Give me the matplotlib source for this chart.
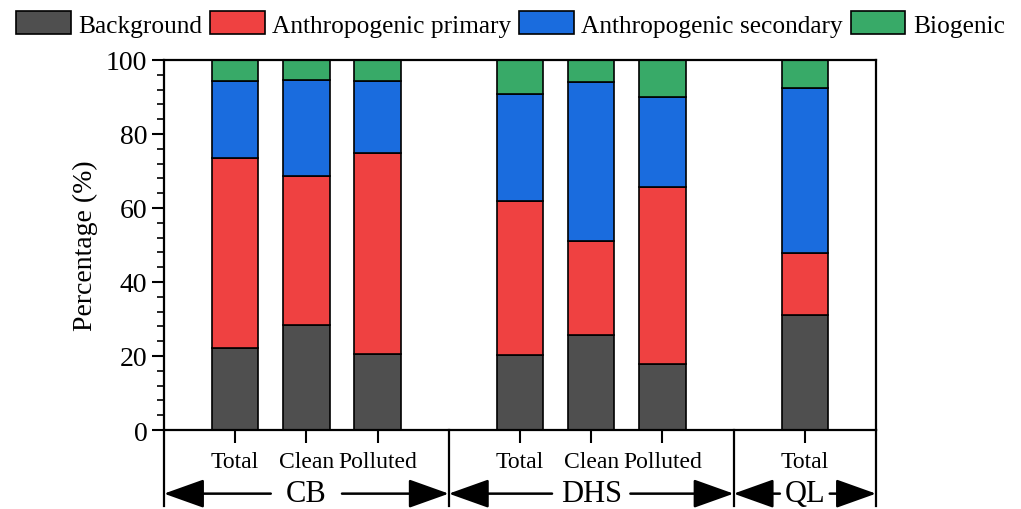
import matplotlib.pyplot as plt
import matplotlib.transforms as mtransforms
import numpy as np

plt.rcParams['font.family'] = ['Liberation Serif', 'DejaVu Serif']

# данные
bar_labels = ['Total', 'Clean', 'Polluted', 'Total', 'Clean', 'Polluted', 'Total']
groups = ['CB', 'DHS', 'QL']
group_sizes = [3, 3, 1]
background = [22.2, 28.4, 20.5, 20.2, 25.8, 17.8, 31.0]
anthro_primary = [51.4, 40.2, 54.4, 41.8, 25.4, 47.8, 16.8]
anthro_secondary = [20.7, 26.0, 19.4, 28.9, 42.9, 24.3, 44.6]
biogenic = [5.7, 5.4, 5.7, 9.1, 5.9, 10.1, 7.6]

series = [
    ('Background', background, '#4f4f4f'),
    ('Anthropogenic primary', anthro_primary, '#ef4141'),
    ('Anthropogenic secondary', anthro_secondary, '#1a6cde'),
    ('Biogenic', biogenic, '#38aa68'),
]

# позиції стовпців з проміжками між групами
pos = []
edges = [0]
x = 0
for n in group_sizes:
    for k in range(n):
        pos.append(x + 1 + k)
    x += n + 1
    edges.append(x)
pos = np.array(pos)

fig = plt.figure(figsize=(10.21, 5.10), dpi=100)
ax = fig.add_axes([0.1606, 0.1549, 0.6974, 0.7255])

bottom = np.zeros(len(pos))
handles = []
for name, vals, col in series:
    h = ax.bar(pos, vals, width=0.65, bottom=bottom, color=col,
               edgecolor='black', linewidth=1.2, label=name)
    handles.append(h)
    bottom += np.array(vals)

ax.set_xlim(edges[0], edges[-1])
ax.set_ylim(0, 100)
ax.set_xticks(pos)
ax.set_xticklabels(bar_labels, fontsize=17)
ax.set_yticks(np.arange(0, 101, 20))
ax.set_yticks(np.arange(0, 101, 4), minor=True)
ax.tick_params(axis='y', which='major', length=9, width=1.5, labelsize=20,
               pad=3, direction='out')
ax.tick_params(axis='y', which='minor', length=5, width=1.2, direction='out')
ax.tick_params(axis='x', length=9, width=1.5, pad=6, direction='out')
for s in ax.spines.values():
    s.set_linewidth(1.6)
ax.set_ylabel('Percentage (%)', fontsize=20, labelpad=6)

# розділювачі груп і стрілки з підписами
trans = mtransforms.blended_transform_factory(ax.transData, ax.transAxes)
for e in edges:
    ax.plot([e, e], [0, -0.205], transform=trans, color='black', lw=1.6, clip_on=False)

gaps = [0.5, 0.55, 0.35]
y_arr = -0.172
for i, g in enumerate(groups):
    left, right = edges[i], edges[i + 1]
    c = (left + right) / 2
    ax.text(c, y_arr, g, transform=trans, ha='center', va='center', fontsize=22)
    for inner, outer in [(c - gaps[i], left), (c + gaps[i], right)]:
        ax.annotate('', xy=(outer, y_arr), xytext=(inner, y_arr),
                    xycoords=trans, textcoords=trans, annotation_clip=False,
                    arrowprops=dict(arrowstyle='-|>,head_length=1.4,head_width=0.5',
                                    lw=1.8, color='black', shrinkA=0, shrinkB=0,
                                    mutation_scale=18))

fig.legend(handles=handles, loc='center', bbox_to_anchor=(0.5, 0.951), ncol=4,
           frameon=False, fontsize=18.3, handlelength=2.15, handleheight=1.0,
           handletextpad=0.3, columnspacing=0.3, borderaxespad=0, borderpad=0)

fig.savefig('out.png', dpi=100)
